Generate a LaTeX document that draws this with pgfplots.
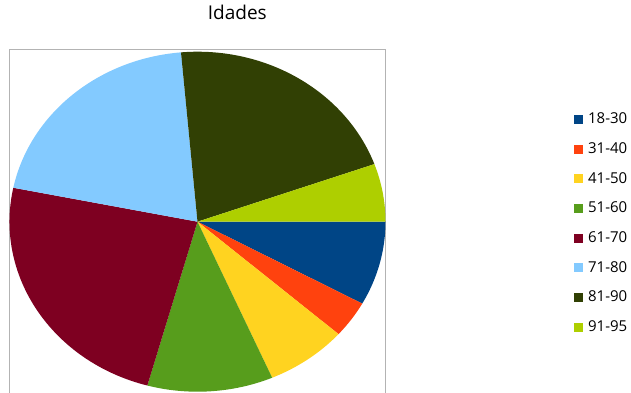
\documentclass[border=0pt]{standalone}
\usepackage{pgfplots}
\pgfplotsset{compat=1.18}
\usepackage{pgfplotstable}
\usepackage{fontspec}
\setmainfont{Open Sans}
\definecolor{c0}{HTML}{004586}
\definecolor{c1}{HTML}{FF420E}
\definecolor{c2}{HTML}{FFD320}
\definecolor{c3}{HTML}{579D1C}
\definecolor{c4}{HTML}{7E0021}
\definecolor{c5}{HTML}{83CAFF}
\definecolor{c6}{HTML}{314004}
\definecolor{c7}{HTML}{AECF00}
\definecolor{framegray}{HTML}{B3B3B3}

% share of each age group, percent
\pgfplotstableread{
label value
18-30 8.0
31-40 3.5
41-50 7.0
51-60 10.8
61-70 23.9
71-80 20.4
81-90 20.9
91-95 5.5
}\agedata

\def\cum{0}
\pgfplotsforeachungrouped \i in {0,...,7}{%
  \pgfplotstablegetelem{\i}{value}\of\agedata
  \pgfmathsetmacro\startang{\cum*3.6}%
  \expandafter\xdef\csname s\i\endcsname{\startang}%
  \pgfmathsetmacro\cum{\cum+\pgfplotsretval}%
  \pgfmathsetmacro\endang{\cum*3.6}%
  \expandafter\xdef\csname e\i\endcsname{\endang}%
}

\begin{document}
\begin{tikzpicture}
\clip (0pt,0pt) rectangle (631pt,392pt);
\begin{axis}[
  at={(9.5pt,-1.7pt)}, anchor=south west,
  width=376pt, height=344pt, scale only axis,
  xmin=-188, xmax=188, ymin=-172, ymax=172,
  xtick=\empty, ytick=\empty,
  axis line style={draw=framegray, line width=0.8pt},
  title={Idades},
  title style={at={(rel axis cs:0.606,1)}, anchor=base, yshift=24.5pt, font=\fontsize{19}{22}\selectfont},
  legend style={at={(axis cs:376,110)}, anchor=north west, draw=none, fill=none,
    font=\fontsize{15}{18}\selectfont, row sep=15.3pt, inner sep=0pt,
    nodes={inner sep=1pt}},
  legend cell align=left,
]
\pgfplotsinvokeforeach{0,...,7}{
  \fill[c#1] (axis cs:0,0) -- ++({-\csname s#1\endcsname}:188pt and 170pt)
    arc[start angle={-\csname s#1\endcsname}, end angle={-\csname e#1\endcsname}, x radius=188pt, y radius=170pt] -- cycle;
}
\pgfplotsinvokeforeach{0,...,7}{
  \addlegendimage{legend image code/.code={\fill[c#1] (0pt,-4pt) rectangle (8pt,4pt); \path (13pt,0pt);}}
  \pgfplotstablegetelem{#1}{label}\of\agedata
  \addlegendentryexpanded{\pgfplotsretval}
}
\end{axis}
\end{tikzpicture}
\end{document}
